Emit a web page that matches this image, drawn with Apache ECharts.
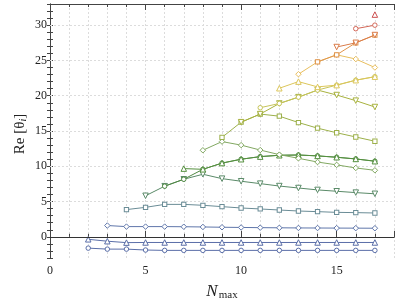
<!DOCTYPE html>
<html><head><meta charset="utf-8">
<script src="https://cdn.jsdelivr.net/npm/echarts/dist/echarts.min.js"></script>
<style>html,body{margin:0;padding:0;background:#fff}#c{width:407px;height:308px}</style>
</head><body><div id="c"></div>
<script>
// N_max values (x = 2 .. 17)
const nmax = [2,3,4,5,6,7,8,9,10,11,12,13,14,15,16,17];
const s1  = [-1.6,-1.74,-1.74,-1.87,-1.92,-1.92,-1.92,-1.92,-1.92,-1.92,-1.92,-1.92,-1.92,-1.92,-1.92,-1.92];
const s2  = [-0.35,-0.62,-0.82,-0.8,-0.8,-0.8,-0.8,-0.8,-0.8,-0.8,-0.8,-0.8,-0.8,-0.8,-0.8,-0.8];
const s3  = [null,1.6,1.45,1.45,1.45,1.43,1.4,1.36,1.33,1.3,1.28,1.26,1.25,1.24,1.23,1.22];
const s4  = [null,null,3.86,4.18,4.6,4.6,4.47,4.28,4.09,3.95,3.8,3.66,3.57,3.47,3.43,3.38];
const s5  = [null,null,null,5.82,7.18,8.16,8.87,8.25,7.88,7.54,7.2,6.92,6.65,6.46,6.27,6.1];
const s6  = [null,null,null,null,7.18,8.16,9.57,10.45,11.0,11.37,11.56,11.6,11.47,11.28,11.04,10.72];
const s7  = [null,null,null,null,null,9.67,9.57,10.45,11.0,11.37,11.56,11.6,11.47,11.28,11.04,10.72];
const s8  = [null,null,null,null,null,null,12.27,13.5,13.0,12.3,11.65,11.13,10.6,10.2,9.76,9.43];
const s9  = [null,null,null,null,null,null,null,14.1,16.25,17.4,17.1,16.2,15.4,14.75,14.15,13.55];
const s10 = [null,null,null,null,null,null,null,null,16.25,17.4,18.9,19.8,20.8,20.1,19.3,18.4];
const s11 = [null,null,null,null,null,null,null,null,null,18.3,18.9,19.8,20.8,21.5,22.2,22.7];
const s12 = [null,null,null,null,null,null,null,null,null,null,21.06,22.0,21.25,21.5,22.2,22.7];
const s13 = [null,null,null,null,null,null,null,null,null,null,null,23.05,24.8,25.8,25.2,24.0];
const s14 = [null,null,null,null,null,null,null,null,null,null,null,null,24.8,25.8,27.5,28.6];
const s15 = [null,null,null,null,null,null,null,null,null,null,null,null,null,26.9,27.5,28.6];
const s16 = [null,null,null,null,null,null,null,null,null,null,null,null,null,null,29.5,30.0];
const s17 = [null,null,null,null,null,null,null,null,null,null,null,null,null,null,null,31.5];
const allSeries = [s1,s2,s3,s4,s5,s6,s7,s8,s9,s10,s11,s12,s13,s14,s15,s16,s17];
const colors = ['#5a6ea8','#5a6ea8','#5f76aa','#6a8c96','#5a8a68','#4f8842','#55903f','#82a862','#9cb04a','#a8b23e','#c6c45a','#dcc65a','#e8be5e','#e0944c','#da7c4a','#d26656','#cc4f4f'];
const markers = ['circle','triangle','diamond','rect','down'];
const xTickLabels = [0,5,10,15];
const yTickLabels = [0,5,10,15,20,25,30];

const series = allSeries.map((vals, i) => {
  const m = markers[i % 5];
  const data = [];
  vals.forEach((v, j) => { if (v !== null) data.push([nmax[j], v]); });
  return {
    type: 'line', data: data,
    symbol: m === 'down' ? 'triangle' : m,
    symbolRotate: m === 'down' ? 180 : 0,
    symbolSize: m === 'circle' ? 4.5 : (m === 'rect' ? 4.3 : 5.5),
    showAllSymbol: true,
    lineStyle: { color: colors[i], width: 1 },
    itemStyle: { color: '#fff', borderColor: colors[i], borderWidth: 1 },
    z: 3 + i
  };
});
// helper series for horizontal grid lines and zero line
series.unshift({
  type: 'line', data: [], silent: true, z: 1,
  markLine: {
    symbol: 'none', silent: true, label: { show: false },
    data: yTickLabels.filter(v => v !== 0).map(v => ({ yAxis: v, lineStyle: { color: '#dcdcdc', type: [2, 2], width: 1 } }))
      .concat([{ yAxis: 0, lineStyle: { color: '#333', type: 'solid', width: 1 } }])
  }
});

const lab = { fontFamily: 'Liberation Serif', fontSize: 12, color: '#222' };
const axLine = { show: true, lineStyle: { color: '#444', width: 1 } };
function xa(pos, interval, tickLen, labels, split) {
  return { type: 'value', min: 0, max: 18, interval: interval, position: pos,
    axisLine: axLine, axisTick: { show: true, inside: true, length: tickLen, lineStyle: { color: '#444' } },
    axisLabel: labels ? Object.assign({ margin: 7, formatter: v => xTickLabels.includes(v) ? String(v) : '' }, lab) : { show: false },
    splitLine: split ? { show: true, lineStyle: { color: '#dcdcdc', type: [2, 2] } } : { show: false } };
}
function ya(pos, labels) {
  return { type: 'value', min: -3, max: 33, interval: 1, position: pos,
    axisLine: axLine, axisTick: { show: true, inside: true, length: 3, lineStyle: { color: '#444' } },
    axisLabel: labels ? Object.assign({ margin: 3, formatter: v => yTickLabels.includes(v) ? String(v) : '' }, lab) : { show: false },
    splitLine: { show: false } };
}
const chart = echarts.init(document.getElementById('c'), null, { renderer: 'canvas' });
chart.setOption({
  animation: false,
  grid: { left: 50, right: 13, top: 4, bottom: 50 },
  xAxis: [xa('bottom', 1, 3, true, true), xa('bottom', 5, 6, false, false), xa('top', 1, 3, false, false), xa('top', 5, 6, false, false)],
  yAxis: [ya('left', true), ya('right', false)],
  series: series,
  graphic: [
    { type: 'text', x: 20, y: 134, rotation: Math.PI / 2,
      style: { text: 'Re [θ{s|i}]', fontFamily: 'Liberation Serif', fontSize: 15, fill: '#222', align: 'center', verticalAlign: 'middle',
        rich: { s: { fontFamily: 'Liberation Serif', fontSize: 10, fontStyle: 'italic', fill: '#222', padding: [6, 0, 0, 0] } } } },
    { type: 'text', x: 222, y: 292,
      style: { text: '{n|N}{m|max}', align: 'center', verticalAlign: 'middle', fill: '#222',
        rich: { n: { fontFamily: 'Liberation Serif', fontStyle: 'italic', fontSize: 17, fill: '#222' },
                m: { fontFamily: 'Liberation Serif', fontSize: 11, fill: '#222', padding: [7, 0, 0, 1] } } } }
  ]
});
</script></body></html>
